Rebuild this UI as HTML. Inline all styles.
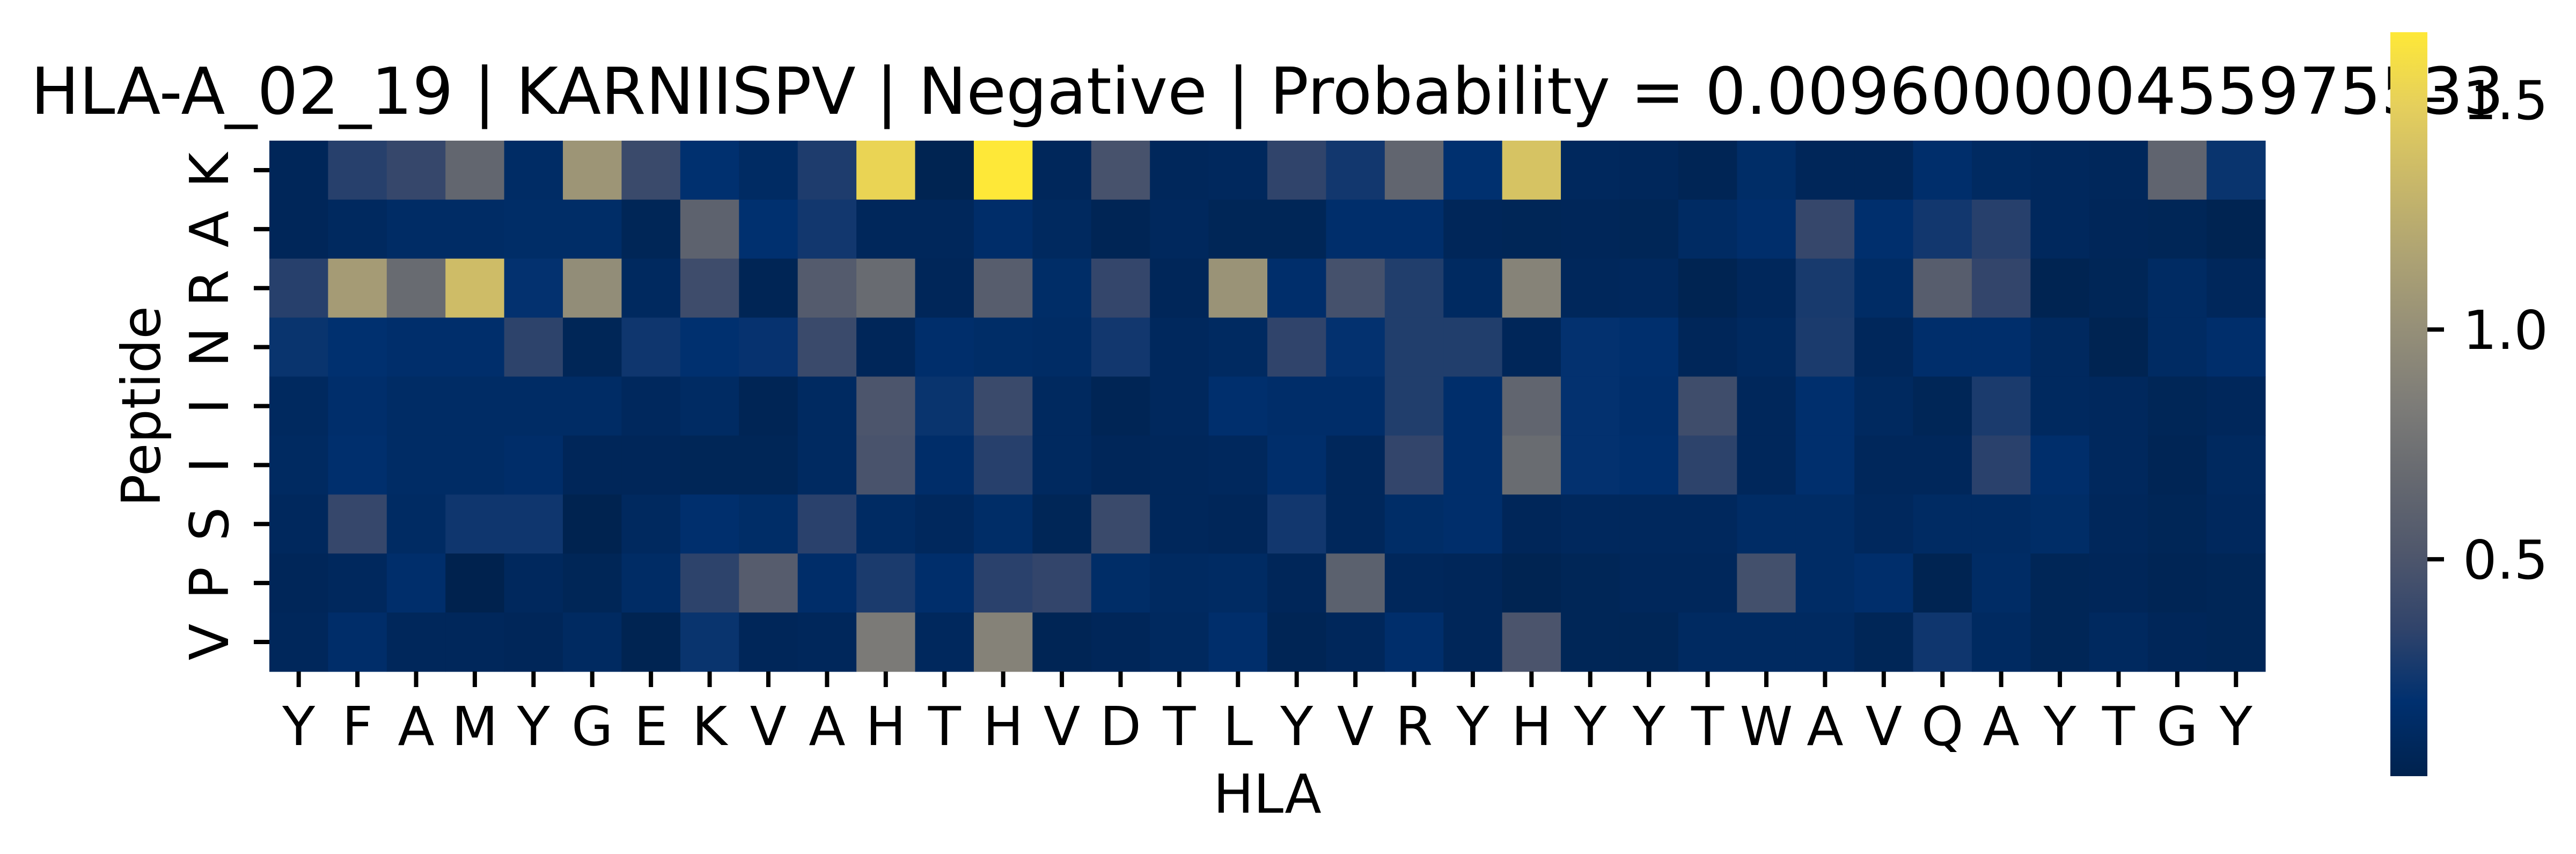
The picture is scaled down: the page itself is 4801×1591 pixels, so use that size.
<!DOCTYPE html>
<html><head><meta charset="utf-8"><style>
html,body{margin:0;padding:0;background:#fff;}
svg{display:block;font-family:"DejaVu Sans","Liberation Sans",sans-serif;}
</style></head><body>
<svg id="chart" width="4801" height="1591" viewBox="0 0 4801 1591" xmlns="http://www.w3.org/2000/svg">
<rect width="4801" height="1591" fill="#fff"/>
<text x="2362" y="212" font-size="120" text-anchor="middle" fill="#000">HLA-A_02_19 | KARNIISPV | Negative | Probability = 0.009600000455975533</text>
<g id="cells"></g>
<g id="axes"></g>
<g id="cbar"></g>
<text x="2362" y="1514" font-size="100" text-anchor="middle">HLA</text>
<text transform="translate(298,757) rotate(-90)" font-size="100" text-anchor="middle">Peptide</text>
</svg>
<script>
const hlaLabels = ["Y","F","A","M","Y","G","E","K","V","A","H","T","H","V","D","T","L","Y","V","R","Y","H","Y","Y","T","W","A","V","Q","A","Y","T","G","Y"];
const peptideLabels = ["K","A","R","N","I","I","S","P","V"];
const rowK = [0.08,0.32,0.38,0.65,0.14,1.05,0.40,0.19,0.13,0.29,1.52,0.05,1.65,0.09,0.47,0.09,0.10,0.35,0.25,0.64,0.19,1.40,0.10,0.09,0.06,0.15,0.08,0.08,0.17,0.12,0.10,0.09,0.63,0.22];
const rowA = [0.08,0.11,0.14,0.14,0.15,0.15,0.07,0.61,0.19,0.25,0.09,0.09,0.16,0.11,0.06,0.10,0.07,0.07,0.17,0.17,0.08,0.07,0.08,0.07,0.13,0.17,0.38,0.18,0.25,0.32,0.10,0.08,0.07,0.05];
const rowR = [0.32,1.10,0.69,1.35,0.20,0.98,0.11,0.42,0.06,0.55,0.69,0.08,0.57,0.15,0.37,0.08,1.03,0.17,0.46,0.30,0.12,0.90,0.09,0.10,0.05,0.09,0.27,0.14,0.57,0.36,0.05,0.07,0.13,0.09];
const rowN = [0.22,0.19,0.17,0.17,0.34,0.07,0.24,0.19,0.21,0.40,0.08,0.17,0.15,0.14,0.25,0.10,0.12,0.35,0.20,0.30,0.30,0.08,0.20,0.18,0.08,0.11,0.28,0.09,0.17,0.17,0.11,0.05,0.13,0.17];
const rowI1 = [0.11,0.17,0.14,0.14,0.14,0.14,0.10,0.13,0.06,0.12,0.50,0.22,0.40,0.11,0.06,0.10,0.18,0.16,0.16,0.30,0.17,0.64,0.20,0.17,0.43,0.09,0.18,0.11,0.07,0.28,0.11,0.10,0.07,0.09];
const rowI2 = [0.12,0.18,0.14,0.14,0.16,0.08,0.08,0.07,0.07,0.12,0.48,0.16,0.32,0.11,0.08,0.09,0.10,0.17,0.09,0.36,0.17,0.70,0.20,0.18,0.34,0.09,0.18,0.09,0.09,0.33,0.17,0.10,0.06,0.11];
const rowS = [0.10,0.38,0.13,0.24,0.24,0.04,0.11,0.18,0.15,0.33,0.13,0.10,0.15,0.07,0.40,0.09,0.08,0.25,0.09,0.15,0.17,0.08,0.10,0.10,0.10,0.14,0.14,0.10,0.13,0.13,0.15,0.09,0.07,0.10];
const rowP = [0.08,0.10,0.17,0.03,0.10,0.07,0.14,0.34,0.56,0.16,0.28,0.17,0.33,0.36,0.15,0.12,0.13,0.08,0.60,0.09,0.08,0.05,0.07,0.09,0.09,0.45,0.14,0.17,0.05,0.14,0.07,0.08,0.06,0.07];
const rowV = [0.09,0.16,0.09,0.09,0.08,0.12,0.05,0.22,0.08,0.09,0.82,0.10,0.89,0.06,0.08,0.11,0.17,0.06,0.09,0.17,0.08,0.49,0.07,0.07,0.12,0.12,0.12,0.07,0.24,0.12,0.07,0.11,0.08,0.07];
const matrix = [rowK,rowA,rowR,rowN,rowI1,rowI2,rowS,rowP,rowV];
const vmin = 0.028, vmax = 1.647;
const cbarTicks = [0.5,1.0,1.5];

const NS="http://www.w3.org/2000/svg";
const X0=502, X1=4222, Y0=262, Y1=1251;
const cw=(X1-X0)/hlaLabels.length, ch=(Y1-Y0)/peptideLabels.length;
function xPos(i){return X0+i*cw;}
function yPos(j){return Y0+j*ch;}
const stops=[[0,0,34,78],[0.1,0,48,111],[0.2,49,68,107],[0.3,79,87,108],[0.4,102,105,112],[0.5,125,124,120],[0.6,149,143,120],[0.7,174,163,115],[0.8,201,184,105],[0.9,229,207,92],[1,254,232,56]];
function cmap(v){let t=Math.max(0,Math.min(1,(v-vmin)/(vmax-vmin)));
 for(let k=1;k<stops.length;k++){if(t<=stops[k][0]){const a=stops[k-1],b=stops[k];const f=(t-a[0])/(b[0]-a[0]);
 return `rgb(${Math.round(a[1]+f*(b[1]-a[1]))},${Math.round(a[2]+f*(b[2]-a[2]))},${Math.round(a[3]+f*(b[3]-a[3]))})`;}}
 return "rgb(254,232,56)";}
function mk(tag,attrs,parent){const e=document.createElementNS(NS,tag);for(const k in attrs)e.setAttribute(k,attrs[k]);parent.appendChild(e);return e;}
const cells=document.getElementById('cells');
matrix.forEach((row,j)=>row.forEach((v,i)=>{
 const r=mk('rect',{x:xPos(i),y:yPos(j),width:cw+0.6,height:ch+0.6,fill:cmap(v)},cells);
 
 
}));
const axes=document.getElementById('axes');
hlaLabels.forEach((l,i)=>{
 const cx=xPos(i)+cw/2;
 const t=mk('line',{x1:cx,x2:cx,y1:Y1,y2:Y1+29,stroke:'#000','stroke-width':8},axes);
 
 
 const tx=mk('text',{x:cx,y:1388,'font-size':100,'text-anchor':'middle'},axes);
 tx.textContent=l;
 
 
});
peptideLabels.forEach((l,j)=>{
 const cy=yPos(j)+ch/2;
 const t=mk('line',{x1:X0-29,x2:X0,y1:cy,y2:cy,stroke:'#000','stroke-width':8},axes);
 
 
 const tx=mk('text',{transform:`translate(425,${cy}) rotate(-90)`,'font-size':100,'text-anchor':'middle'},axes);
 tx.textContent=l;
 
 
});
const cb=document.getElementById('cbar');
const CX0=4455,CX1=4524,CY0=60,CY1=1446;
const defs=mk('defs',{},cb);
const g=mk('linearGradient',{id:'cg',x1:0,y1:1,x2:0,y2:0},defs);
stops.forEach(s=>mk('stop',{offset:s[0],'stop-color':`rgb(${s[1]},${s[2]},${s[3]})`},g));
const bar=mk('rect',{x:CX0,y:CY0,width:CX1-CX0,height:CY1-CY0,fill:'url(#cg)'},cb);


function cy(v){return CY1-(v-vmin)/(vmax-vmin)*(CY1-CY0);}
cbarTicks.forEach(v=>{
 const y=cy(v);
 const t=mk('line',{x1:CX1,x2:CX1+31,y1:y,y2:y,stroke:'#000','stroke-width':8},cb);
 
 
 const tx=mk('text',{x:4590,y:y+36,'font-size':100},cb);
 tx.textContent=v.toFixed(1);
 
 
});
</script>
</body></html>
